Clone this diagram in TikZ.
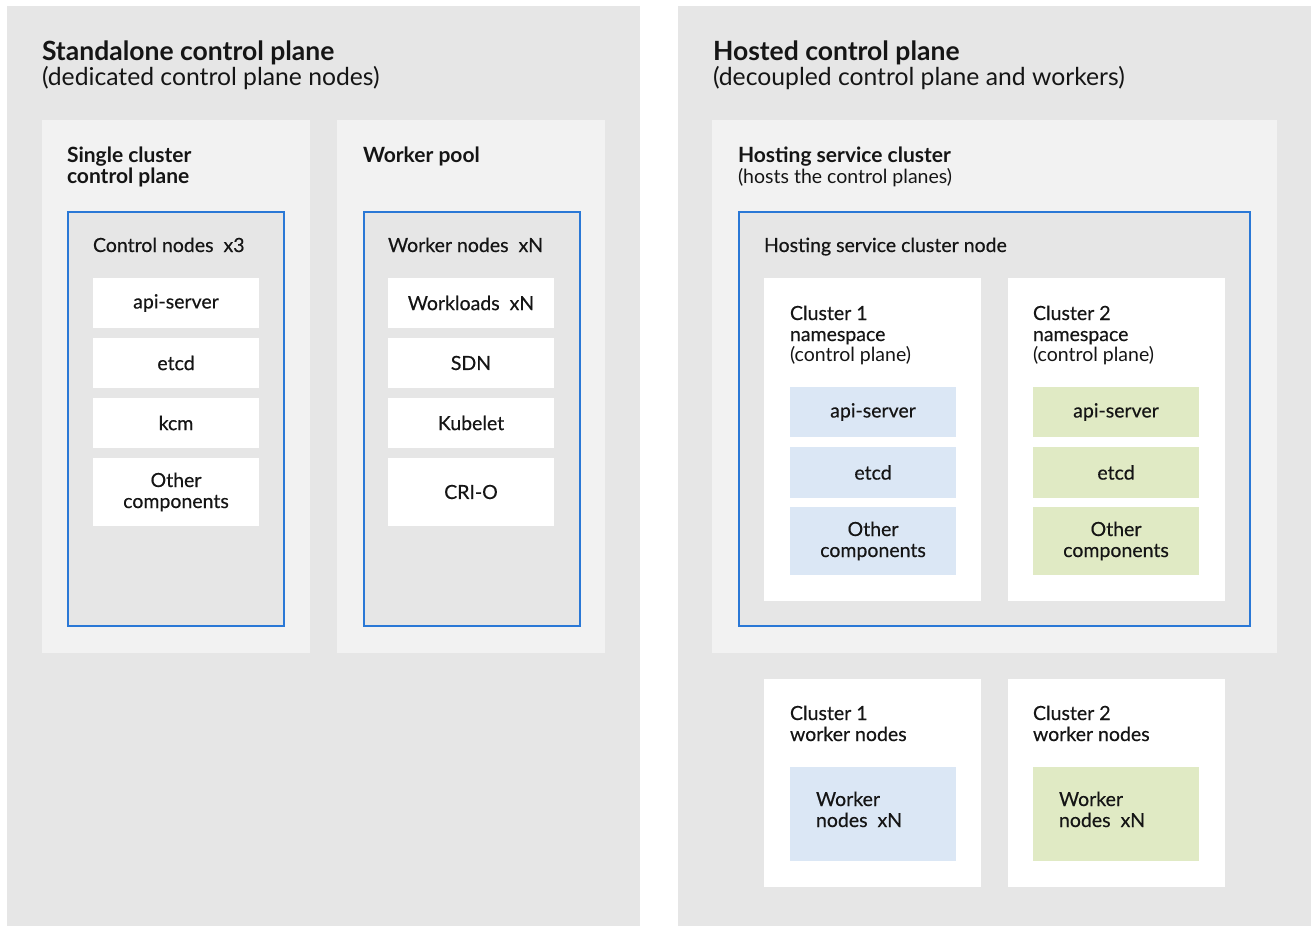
\documentclass[tikz,border=0pt]{standalone}
\usepackage{fontspec}
\setmainfont{Lato}
\newfontfamily\medfont[FakeBold=0.4]{Lato}
\definecolor{panelgray}{HTML}{E6E6E6}
\definecolor{lightgray}{HTML}{F2F2F2}
\definecolor{hblue}{HTML}{2A78D6}
\definecolor{lblue}{HTML}{DBE7F5}
\definecolor{lgreen}{HTML}{E0EAC4}
\definecolor{ink}{HTML}{151515}
\begin{document}
\begin{tikzpicture}[x=1pt,y=-1pt,
  every node/.style={inner sep=0pt, outer sep=0pt, text=ink},
  rbox/.style={anchor=north west, draw=none, rectangle},
  panel/.style={rbox, fill=panelgray},
  lbox/.style={rbox, fill=lightgray},
  bbox/.style={rbox, fill=panelgray, draw=hblue, line width=2pt},
  wbox/.style={rbox, fill=white},
  comp/.style={rbox, fill=white, align=center, font=\medfont\fontsize{19.5}{21}\selectfont},
  bcomp/.style={comp, fill=lblue},
  gcomp/.style={comp, fill=lgreen},
  title/.style={anchor=base west, font=\bfseries\fontsize{26.5}{28}\selectfont},
  subtitle/.style={anchor=base west, font=\fontsize{24.7}{28}\selectfont},
  head/.style={anchor=base west, font=\bfseries\fontsize{21}{21}\selectfont},
  lbl/.style={anchor=base west, font=\medfont\fontsize{19.5}{21}\selectfont},
  small/.style={anchor=base west, font=\fontsize{19.5}{20}\selectfont},
]
\useasboundingbox (0,0) rectangle (1311,926);
\fill[white] (0,0) rectangle (1311,926);

% panels
\node[panel, minimum width=633pt, minimum height=920pt] (lp) at (7,6) {};
\node[panel, minimum width=633pt, minimum height=920pt] (rp) at (678,6) {};

% left titles
\node[title] (t1) at (42,60) {Standalone control plane};
\node[subtitle] (s1) at (42,85) {(dedicated control plane nodes)};

% left boxes
\node[lbox, minimum width=268pt, minimum height=533pt] (scp) at (42,120) {};
\node[lbox, minimum width=268pt, minimum height=533pt] (wp) at (337,120) {};
\node[head] (h1a) at (67,162) {Single cluster};
\node[head] (h1b) at (67,183) {control plane};
\node[head] (h2) at (363,162) {Worker pool};

\node[bbox, minimum width=216pt, minimum height=414pt] (cn) at (68,212) {};
\node[bbox, minimum width=216pt, minimum height=414pt] (wn) at (364,212) {};
\node[lbl] (cnl) at (93,252) {Control nodes\ \ x3};
\node[lbl] (wnl) at (388,252) {Worker nodes\ \ xN};

\node[comp, minimum width=166pt, minimum height=50pt] (c1) at (93,278) {api-server};
\node[comp, minimum width=166pt, minimum height=50pt] (c2) at (93,338) {etcd};
\node[comp, minimum width=166pt, minimum height=50pt] (c3) at (93,398) {kcm};
\node[comp, minimum width=166pt, minimum height=68pt] (c4) at (93,458) {Other\\components};

\node[comp, minimum width=166pt, minimum height=50pt] (w1) at (388,278) {Workloads\ \ xN};
\node[comp, minimum width=166pt, minimum height=50pt] (w2) at (388,338) {SDN};
\node[comp, minimum width=166pt, minimum height=50pt] (w3) at (388,398) {Kubelet};
\node[comp, minimum width=166pt, minimum height=68pt] (w4) at (388,458) {CRI-O};

% right titles
\node[title] (t2) at (713,60) {Hosted control plane};
\node[subtitle] (s2) at (713,85) {(decoupled control plane and workers)};

\node[lbox, minimum width=565pt, minimum height=533pt] (hsc) at (712,120) {};
\node[head] (hh) at (738,162) {Hosting service cluster};
\node[small] (hs) at (738,183) {(hosts the control planes)};

\node[bbox, minimum width=511pt, minimum height=414pt] (hsn) at (739,212) {};
\node[lbl] (hsnl) at (764,252) {Hosting service cluster node};

% cluster namespaces
\node[wbox, minimum width=217pt, minimum height=323pt] (ns1) at (764,278) {};
\node[wbox, minimum width=217pt, minimum height=323pt] (ns2) at (1008,278) {};
\node[lbl] (n1a) at (790,320) {Cluster 1};
\node[lbl] (n1b) at (790,341) {namespace};
\node[small] (n1c) at (790,361) {(control plane)};
\node[lbl] (n2a) at (1033,320) {Cluster 2};
\node[lbl] (n2b) at (1033,341) {namespace};
\node[small] (n2c) at (1033,361) {(control plane)};

\node[bcomp, minimum width=166pt, minimum height=50pt] (b1) at (790,387) {api-server};
\node[bcomp, minimum width=166pt, minimum height=51pt] (b2) at (790,447) {etcd};
\node[bcomp, minimum width=166pt, minimum height=68pt] (b3) at (790,507) {Other\\components};
\node[gcomp, minimum width=166pt, minimum height=50pt] (g1) at (1033,387) {api-server};
\node[gcomp, minimum width=166pt, minimum height=51pt] (g2) at (1033,447) {etcd};
\node[gcomp, minimum width=166pt, minimum height=68pt] (g3) at (1033,507) {Other\\components};

% worker nodes
\node[wbox, minimum width=217pt, minimum height=208pt] (wk1) at (764,679) {};
\node[wbox, minimum width=217pt, minimum height=208pt] (wk2) at (1008,679) {};
\node[lbl] (k1a) at (790,720) {Cluster 1};
\node[lbl] (k1b) at (790,741) {worker nodes};
\node[lbl] (k2a) at (1033,720) {Cluster 2};
\node[lbl] (k2b) at (1033,741) {worker nodes};
\node[rbox, fill=lblue, minimum width=166pt, minimum height=94pt] (bw) at (790,767) {};
\node[rbox, fill=lgreen, minimum width=166pt, minimum height=94pt] (gw) at (1033,767) {};
\node[lbl] (bwa) at (816,806) {Worker};
\node[lbl] (bwb) at (816,827) {nodes\ \ xN};
\node[lbl] (gwa) at (1059,806) {Worker};
\node[lbl] (gwb) at (1059,827) {nodes\ \ xN};
\end{tikzpicture}
\end{document}
